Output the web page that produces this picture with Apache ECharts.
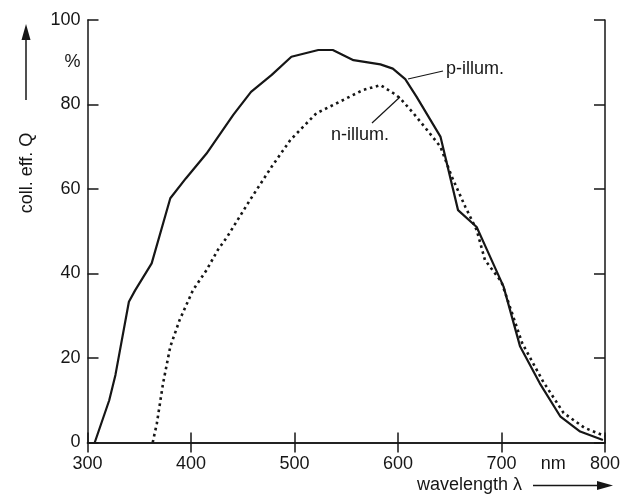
<!DOCTYPE html>
<html>
<head>
<meta charset="utf-8">
<script src="https://cdn.jsdelivr.net/npm/echarts@6/dist/echarts.min.js"></script>
<style>html,body{margin:0;padding:0;background:#fff}#c{width:624px;height:502px}</style>
</head>
<body>
<div id="c"></div>
<script>
// wavelength (nm) and collection efficiency (%)
const pWave = [307, 321, 327, 340, 346, 362, 380, 395, 415, 441, 458, 478, 497, 523, 537, 557, 583, 595, 607, 618, 641, 658, 676, 686, 702, 718, 737, 757, 776, 798];
const pEff  = [0, 10, 16, 33.3, 36, 42.4, 57.8, 62.5, 68.4, 77.6, 83, 87, 91.3, 92.9, 92.9, 90.5, 89.5, 88.5, 86, 81.8, 72.4, 55, 51, 45.6, 36.9, 22.7, 14, 6.1, 2.6, 0.6];
const nWave = [363, 367, 373, 380, 389, 402, 415, 426, 435, 457, 478, 496, 521, 544, 566, 583, 596, 602, 615, 628, 641, 652, 665, 676, 684, 700, 720, 740, 760, 780, 800];
const nEff  = [0, 4.5, 14, 22.7, 29, 36.1, 40.8, 45.6, 48.7, 57.4, 65.3, 71.6, 77.9, 80.7, 83.4, 84.6, 82.6, 81.5, 77.9, 74, 70, 62.9, 55.8, 50.3, 43.2, 38, 23.5, 14.5, 7, 3.5, 1.5];
const xLabelValues = [300, 400, 500, 600, 700, 750, 800];
const yLabelValues = [0, 20, 40, 60, 80, 90, 100];
const xUnit = 'nm';
const yUnit = '%';

const F = '"Liberation Sans", Arial, Helvetica, sans-serif';
const ink = '#161616';
const chart = echarts.init(document.getElementById('c'), null, {renderer: 'canvas'});
const axisLine = {show: true, lineStyle: {color: ink, width: 1.5}};
chart.setOption({
  backgroundColor: '#fff',
  animation: false,
  grid: {left: 87.5, right: 19, top: 20, bottom: 59.5},
  xAxis: [{
    type: 'value', min: 300, max: 800, interval: 100, position: 'bottom',
    axisLine: axisLine, splitLine: {show: false},
    axisTick: {inside: true, length: 10, lineStyle: {color: ink, width: 1.5}},
    axisLabel: {customValues: xLabelValues, margin: 13, color: ink, fontFamily: F, fontSize: 18,
      formatter: v => v === 750 ? xUnit : String(v)}
  }, {
    type: 'value', min: 300, max: 800, interval: 100, position: 'top',
    axisLine: axisLine, splitLine: {show: false},
    axisTick: {inside: true, length: 10, lineStyle: {color: ink, width: 1.5}},
    axisLabel: {show: false}
  }],
  yAxis: [{
    type: 'value', min: 0, max: 100, interval: 20, position: 'left',
    axisLine: axisLine, splitLine: {show: false},
    axisTick: {inside: true, length: 11, lineStyle: {color: ink, width: 1.5}},
    axisLabel: {customValues: yLabelValues, margin: 7, color: ink, fontFamily: F, fontSize: 18,
      formatter: v => v === 90 ? yUnit : String(v)}
  }, {
    type: 'value', min: 0, max: 100, interval: 20, position: 'right',
    axisLine: axisLine, splitLine: {show: false},
    axisTick: {inside: true, length: 11, lineStyle: {color: ink, width: 1.5}},
    axisLabel: {show: false}
  }],
  series: [{
    name: 'p-illum.', type: 'line', showSymbol: false, symbol: 'none',
    data: pWave.map((w, i) => [w, pEff[i]]),
    lineStyle: {color: ink, width: 2.2}
  }, {
    name: 'n-illum.', type: 'line', showSymbol: false, symbol: 'none',
    data: nWave.map((w, i) => [w, nEff[i]]),
    lineStyle: {color: ink, width: 2.6, type: [2.6, 3.6]}
  }],
  graphic: [
    {type: 'text', left: 446, top: 60, style: {text: 'p-illum.', fill: ink, font: '18px ' + F}},
    {type: 'line', shape: {x1: 408, y1: 79, x2: 443, y2: 71}, style: {stroke: ink, lineWidth: 1.2}},
    {type: 'text', left: 331, top: 126, style: {text: 'n-illum.', fill: ink, font: '18px ' + F}},
    {type: 'line', shape: {x1: 372, y1: 123, x2: 400, y2: 97}, style: {stroke: ink, lineWidth: 1.2}},
    {type: 'text', x: 27, y: 173, rotation: Math.PI / 2,
      style: {text: 'coll. eff. Q', fill: ink, font: '18px ' + F, align: 'center', verticalAlign: 'middle'}},
    {type: 'line', shape: {x1: 26, y1: 100, x2: 26, y2: 36}, style: {stroke: ink, lineWidth: 1.5}},
    {type: 'polygon', shape: {points: [[26, 24], [21.5, 40], [30.5, 40]]}, style: {fill: ink}},
    {type: 'text', left: 417, top: 476, style: {text: 'wavelength λ', fill: ink, font: '18px ' + F}},
    {type: 'line', shape: {x1: 533, y1: 485.5, x2: 600, y2: 485.5}, style: {stroke: ink, lineWidth: 1.5}},
    {type: 'polygon', shape: {points: [[613, 485.5], [597, 481], [597, 490]]}, style: {fill: ink}}
  ]
});
</script>
</body>
</html>
